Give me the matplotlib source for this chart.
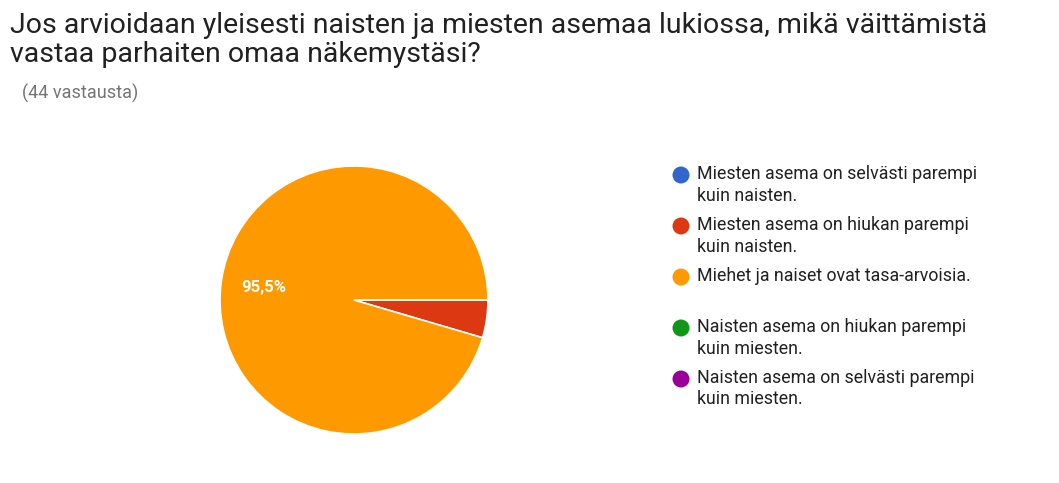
import matplotlib.pyplot as plt
from matplotlib.patches import Ellipse

plt.rcParams['font.family'] = ['Roboto', 'DejaVu Sans']

# --- data ---
labels = ['Miesten asema on selvästi parempi\nkuin naisten.',
          'Miesten asema on hiukan parempi\nkuin naisten.',
          'Miehet ja naiset ovat tasa-arvoisia.',
          'Naisten asema on hiukan parempi\nkuin miesten.',
          'Naisten asema on selvästi parempi\nkuin miesten.']
counts = [0, 2, 42, 0, 0]
colors = ['#3366cc', '#dc3912', '#ff9900', '#109618', '#990099']
total = sum(counts)

W, H = 1059, 483
fig = plt.figure(figsize=(W / 100, H / 100), dpi=100)
fig.text(10 / W, 1 - 12 / H, 'Jos arvioidaan yleisesti naisten ja miesten asemaa lukiossa, mikä väittämistä\nvastaa parhaiten omaa näkemystäsi?',
         fontsize=20.5, va='top', ha='left', color='#212121', linespacing=1.1)
fig.text(22 / W, 1 - 93 / H, f'({total} vastausta)', fontsize=13, color='#757575', va='center')

r = 134
ax = fig.add_axes([(354 - r) / W, (H - 300 - r) / H, 2 * r / W, 2 * r / H])
nz = [(c, col) for c, col in zip(counts, colors) if c > 0]
ax.pie([c for c, _ in nz], colors=[col for _, col in nz], startangle=0, radius=1,
       counterclock=False, wedgeprops=dict(edgecolor='white', linewidth=1.2))
ax.set_xlim(-1, 1)
ax.set_ylim(-1, 1)
ax.axis('off')
ax.text(-0.67, 0.09, f'{counts[2] / total * 100:.1f}%'.replace('.', ','),
        color='white', fontsize=12, fontweight='bold', ha='center', va='center')

# legend drawn by hand
ys = [175, 226, 277, 328, 379]
for lab, col, y in zip(labels, colors, ys):
    yf = 1 - y / H
    fig.patches.append(Ellipse((681 / W, yf), 17 / W, 17 / H, transform=fig.transFigure,
                               facecolor=col, edgecolor='none', figure=fig))
    fig.text(697 / W, yf + 10 / H, lab, fontsize=12.8, color='#212121', va='top',
             ha='left', linespacing=1.25)

fig.savefig('out.png', dpi=100)
